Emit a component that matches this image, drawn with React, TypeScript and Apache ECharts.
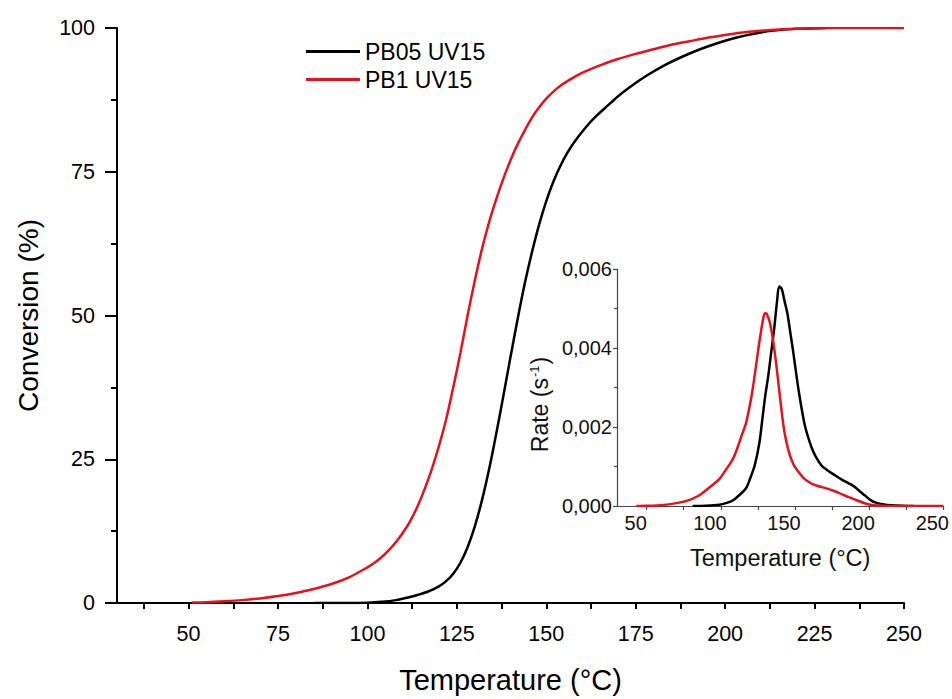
import React, { useEffect, useRef } from "react";
import * as echarts from "echarts";

// ---------- data ----------
const seriesNames = ["PB05 UV15", "PB1 UV15"];

// Main plot: conversion (%) vs temperature (°C)
const pb05ConvTemp = [85, 95, 100, 104, 108, 111, 114, 117, 120, 122, 124, 126, 128, 130, 132, 134, 136, 138, 140, 142, 144, 146, 148, 150, 152, 154, 156, 158, 161, 164, 167, 170, 174, 178, 183, 188, 193, 198, 203, 208, 213, 220, 228];
const pb05Conv = [0, 0, 0.05, 0.2, 0.5, 0.9, 1.4, 2.0, 2.9, 3.8, 5.1, 7.0, 9.7, 13.3, 17.8, 23.2, 29.4, 36.0, 42.8, 49.4, 55.6, 61.0, 65.8, 69.9, 73.3, 76.1, 78.4, 80.3, 82.7, 84.7, 86.4, 88.1, 90.0, 91.7, 93.5, 95.0, 96.3, 97.4, 98.3, 99.0, 99.5, 99.85, 100];

const pb1ConvTemp = [51, 55, 60, 65, 70, 75, 80, 85, 90, 95, 100, 102, 104, 106, 108, 110, 112, 114, 116, 118, 120, 122, 124, 126, 128, 130, 132, 134, 136, 138, 140, 142, 144, 146, 148, 150, 153, 156, 160, 165, 170, 175, 180, 185, 190, 195, 200, 206, 212, 220, 230, 250];
const pb1Conv = [0.1, 0.15, 0.3, 0.5, 0.8, 1.2, 1.75, 2.45, 3.3, 4.5, 6.2, 7.0, 8.0, 9.2, 10.6, 12.3, 14.3, 16.8, 19.8, 23.3, 27.3, 31.9, 37.5, 43.5, 50.0, 56.0, 61.5, 66.2, 70.2, 73.8, 77.0, 79.8, 82.2, 84.4, 86.2, 87.7, 89.5, 90.8, 92.2, 93.5, 94.6, 95.5, 96.3, 97.1, 97.7, 98.3, 98.8, 99.3, 99.6, 99.85, 100, 100];

// Inset: rate (s^-1) vs temperature (°C)
const pb05RateTemp = [81, 90, 99, 104, 108, 112, 117, 120, 123, 126, 128, 130, 132, 134, 136, 138, 139.3, 141, 143, 145, 147, 149, 151, 153, 156.7, 161, 164, 168, 172, 176, 181, 185, 188, 191, 194, 197, 201, 205, 210, 215, 222, 230];
const pb05Rate = [0, 0.000005, 0.00003, 0.00008, 0.00014, 0.00026, 0.00045, 0.00072, 0.00105, 0.0016, 0.0022, 0.0028, 0.0033, 0.0039, 0.0045, 0.00522, 0.00556, 0.0055, 0.00518, 0.00485, 0.00435, 0.00385, 0.0033, 0.0028, 0.00203, 0.0015, 0.00125, 0.00102, 0.0009, 0.0008, 0.00068, 0.0006, 0.00054, 0.00046, 0.00036, 0.00027, 0.00015, 0.00008, 0.00004, 0.00002, 0.000005, 0];

const pb1RateTemp = [43, 50, 59, 68, 77, 85, 90, 95, 99, 104, 108, 111, 114, 117, 119, 121, 123, 125, 127, 129, 130, 131, 133, 135, 137, 139, 141, 143, 146, 149, 152, 156, 161, 166, 170, 175, 179, 184, 188, 192, 197, 201, 206, 212, 220, 250];
const pb1Rate = [0, 0.000005, 0.00002, 0.00006, 0.00013, 0.00026, 0.0004, 0.00055, 0.00068, 0.00095, 0.00118, 0.00145, 0.00178, 0.0021, 0.00245, 0.00285, 0.00335, 0.0039, 0.0044, 0.00482, 0.00488, 0.00486, 0.00465, 0.00425, 0.0037, 0.00305, 0.0024, 0.00185, 0.00135, 0.00105, 0.00088, 0.0007, 0.00057, 0.0005, 0.00046, 0.0004, 0.00034, 0.00026, 0.0002, 0.00014, 0.00007, 0.00003, 0.00001, 0, 0, 0];

// Axis ticks / labels
const mainXTicks = [37.5, 50, 62.5, 75, 87.5, 100, 112.5, 125, 137.5, 150, 162.5, 175, 187.5, 200, 212.5, 225, 237.5, 250];
const mainXLabels = [50, 75, 100, 125, 150, 175, 200, 225, 250];
const insetXTicks = [50, 75, 100, 125, 150, 175, 200, 225, 250];
const insetXLabels = [50, 100, 150, 200, 250];

const COLORS = ["#000000", "#e8101a"];
const FONT = "'Liberation Sans', Arial, Helvetica, sans-serif";

const zip = (t: number[], v: number[]) => t.map((x, i) => [x, v[i]]);

export default function App() {
  const ref = useRef<HTMLDivElement>(null);

  useEffect(() => {
    if (!ref.current) return;
    const chart = echarts.init(ref.current, undefined, { renderer: "svg" });

    const lineSeries = (i: number, t: number[], v: number[], axis: number) => ({
      name: seriesNames[i],
      type: "line",
      xAxisIndex: axis,
      yAxisIndex: axis,
      data: zip(t, v),
      smooth: 0.3,
      symbol: "none",
      showSymbol: false,
      lineStyle: { color: COLORS[i], width: 2.5 },
      itemStyle: { color: COLORS[i] },
      z: 3 + i,
    });

    const option: any = {
      animation: false,
      backgroundColor: "#ffffff",
      textStyle: { fontFamily: FONT, color: "#000" },
      grid: [
        { left: 117, right: 48, top: 28, bottom: 90 },
        { left: 617, right: 5, top: 269, bottom: 193 },
      ],
      legend: {
        data: seriesNames.map((n) => ({ name: n, icon: "rect" })),
        orient: "vertical",
        left: 301,
        top: 35,
        itemWidth: 54,
        itemHeight: 3,
        itemGap: 5,
        textStyle: { fontSize: 23, color: "#000", fontFamily: FONT },
      },
      xAxis: [
        {
          type: "value",
          gridIndex: 0,
          min: 30,
          max: 250,
          name: "Temperature (°C)",
          nameLocation: "middle",
          nameGap: 62,
          nameTextStyle: { fontSize: 29, color: "#000", fontFamily: FONT },
          axisLine: { show: true, onZero: false, lineStyle: { color: "#000", width: 2 } },
          axisTick: { show: true, customValues: mainXTicks, length: 6, inside: false, lineStyle: { color: "#000", width: 2 } },
          axisLabel: { customValues: mainXLabels, fontSize: 21.5, color: "#000", margin: 20, fontFamily: FONT },
          splitLine: { show: false },
        },
        {
          type: "value",
          gridIndex: 1,
          min: 30,
          max: 250,
          name: "Temperature (°C)",
          nameLocation: "middle",
          nameGap: 40,
          nameTextStyle: { fontSize: 23.5, color: "#111", fontFamily: FONT },
          axisLine: { show: true, onZero: false, lineStyle: { color: "#444", width: 1.2 } },
          axisTick: { show: true, customValues: insetXTicks, length: 4, inside: false, lineStyle: { color: "#444", width: 1.2 } },
          axisLabel: { customValues: insetXLabels, fontSize: 20, color: "#111", margin: 7, padding: [0, 22, 0, 0], fontFamily: FONT },
          splitLine: { show: false },
        },
      ],
      yAxis: [
        {
          type: "value",
          gridIndex: 0,
          min: 0,
          max: 100,
          interval: 25,
          name: "Conversion (%)",
          nameLocation: "middle",
          nameGap: 75,
          nameTextStyle: { fontSize: 28, color: "#000", fontFamily: FONT },
          axisLine: { show: true, onZero: false, lineStyle: { color: "#000", width: 2 } },
          axisTick: { show: true, length: 12, inside: false, lineStyle: { color: "#000", width: 2 } },
          minorTick: { show: true, splitNumber: 2, length: 6, lineStyle: { color: "#000", width: 2 } },
          axisLabel: { fontSize: 21.5, color: "#000", margin: 22, fontFamily: FONT },
          splitLine: { show: false },
          minorSplitLine: { show: false },
        },
        {
          type: "value",
          gridIndex: 1,
          min: 0,
          max: 0.006,
          interval: 0.002,
          name: "Rate (s{sup|-1})",
          nameLocation: "middle",
          nameGap: 66,
          nameTextStyle: {
            fontSize: 23,
            color: "#111",
            fontFamily: FONT,
            padding: [0, 34, 0, 0],
            rich: {
              sup: { fontSize: 13, verticalAlign: "top", color: "#111", fontFamily: FONT, padding: [0, 1, 9, 1] },
            },
          },
          axisLine: { show: true, onZero: false, lineStyle: { color: "#444", width: 1.2 } },
          axisTick: { show: true, length: 4, inside: false, lineStyle: { color: "#444", width: 1.2 } },
          minorTick: { show: true, splitNumber: 2, length: 3, lineStyle: { color: "#444", width: 1.2 } },
          axisLabel: {
            fontSize: 20,
            color: "#111",
            margin: 5,
            fontFamily: FONT,
            formatter: (v: number) => v.toFixed(3).replace(".", ","),
          },
          splitLine: { show: false },
          minorSplitLine: { show: false },
        },
      ],
      series: [
        lineSeries(0, pb05ConvTemp, pb05Conv, 0),
        lineSeries(1, pb1ConvTemp, pb1Conv, 0),
        lineSeries(0, pb05RateTemp, pb05Rate, 1),
        lineSeries(1, pb1RateTemp, pb1Rate, 1),
      ],
    };

    chart.setOption(option);
    return () => {
      chart.dispose();
    };
  }, []);

  return (
    <div
      ref={ref}
      style={{ position: "absolute", left: 0, top: 0, width: 952, height: 699, background: "#fff" }}
    />
  );
}
